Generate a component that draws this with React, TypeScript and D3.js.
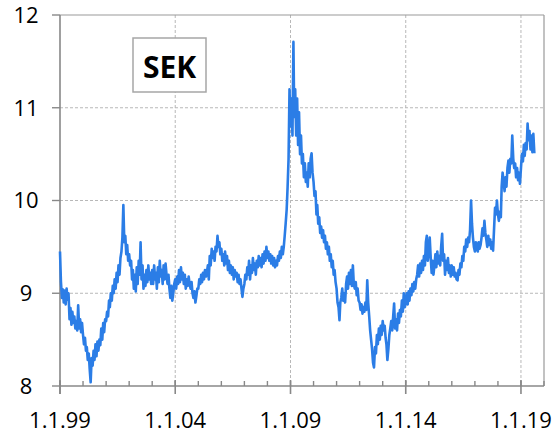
import React, { useEffect, useRef } from 'react';
import * as d3 from 'd3';

// EUR/SEK, two readings per month (1st and 16th)
const y1999 = [9.45, 9.12, 8.95, 9.04, 8.9, 9.03, 8.88, 9.05, 8.93, 9.0, 8.72, 8.84, 8.66, 8.8, 8.68, 8.75, 8.62, 8.7, 8.6, 8.87, 8.62, 8.72, 8.58, 8.68];
const y2000 = [8.55, 8.45, 8.52, 8.38, 8.42, 8.28, 8.35, 8.18, 8.04, 8.3, 8.22, 8.38, 8.28, 8.45, 8.32, 8.48, 8.38, 8.5, 8.44, 8.62, 8.5, 8.68, 8.58, 8.72];
const y2001 = [8.7, 8.8, 8.75, 8.92, 8.85, 9.0, 8.92, 9.08, 9.0, 9.15, 9.05, 9.22, 9.12, 9.3, 9.2, 9.38, 9.45, 9.6, 9.95, 9.55, 9.62, 9.42, 9.52, 9.35];
const y2002 = [9.42, 9.3, 9.35, 9.15, 9.25, 9.05, 9.2, 9.02, 9.28, 9.1, 9.35, 9.2, 9.55, 9.15, 9.3, 9.05, 9.2, 9.08, 9.25, 9.12, 9.3, 9.15, 9.22, 9.1];
const y2003 = [9.25, 9.1, 9.3, 9.15, 9.22, 9.05, 9.28, 9.12, 9.35, 9.18, 9.25, 9.1, 9.3, 9.15, 9.32, 9.2, 9.1, 9.2, 9.05, 8.95, 9.08, 8.92, 9.0, 9.1];
const y2004 = [9.15, 9.05, 9.18, 9.1, 9.25, 9.12, 9.28, 9.15, 9.22, 9.1, 9.2, 9.05, 9.15, 9.08, 9.18, 9.1, 9.05, 9.12, 9.0, 8.95, 9.02, 8.9, 8.97, 9.05];
const y2005 = [9.05, 9.15, 9.1, 9.2, 9.12, 9.22, 9.15, 9.25, 9.18, 9.22, 9.3, 9.15, 9.4, 9.3, 9.48, 9.38, 9.45, 9.35, 9.5, 9.45, 9.62, 9.5, 9.55, 9.42];
const y2006 = [9.48, 9.35, 9.42, 9.3, 9.45, 9.32, 9.4, 9.25, 9.35, 9.22, 9.3, 9.2, 9.28, 9.15, 9.25, 9.18, 9.22, 9.12, 9.2, 9.1, 9.15, 9.05, 8.96, 9.05];
const y2007 = [9.1, 9.2, 9.15, 9.28, 9.2, 9.35, 9.15, 9.3, 9.22, 9.38, 9.25, 9.32, 9.2, 9.35, 9.28, 9.4, 9.3, 9.38, 9.28, 9.42, 9.32, 9.45, 9.35, 9.5];
const y2008 = [9.38, 9.45, 9.35, 9.42, 9.32, 9.4, 9.3, 9.38, 9.28, 9.35, 9.3, 9.4, 9.35, 9.45, 9.38, 9.5, 9.42, 9.5, 9.62, 9.75, 9.9, 10.15, 10.45, 11.2];
const y2009 = [10.8, 11.1, 10.7, 11.71, 10.9, 11.2, 10.7, 11.1, 10.6, 10.95, 10.5, 10.7, 10.4, 10.5, 10.25, 10.4, 10.2, 10.3, 10.15, 10.4, 10.25, 10.45, 10.51, 10.3];
const y2010 = [10.2, 10.05, 10.1, 9.85, 9.95, 9.75, 9.82, 9.65, 9.72, 9.6, 9.68, 9.55, 9.62, 9.48, 9.55, 9.42, 9.5, 9.35, 9.42, 9.28, 9.35, 9.2, 9.25, 9.12];
const y2011 = [9.05, 8.9, 8.85, 8.71, 8.9, 8.95, 9.05, 8.92, 9.0, 8.9, 9.1, 9.18, 9.05, 9.22, 9.1, 9.25, 9.08, 9.3, 9.1, 9.05, 9.12, 8.98, 9.05, 8.92];
const y2012 = [8.9, 8.82, 8.88, 8.78, 8.85, 8.8, 8.9, 8.82, 9.14, 8.9, 8.75, 8.6, 8.5, 8.4, 8.25, 8.2, 8.42, 8.35, 8.55, 8.45, 8.62, 8.5, 8.65, 8.55];
const y2013 = [8.7, 8.6, 8.65, 8.52, 8.45, 8.28, 8.4, 8.55, 8.62, 8.7, 8.6, 8.75, 8.89, 8.62, 8.72, 8.6, 8.78, 8.68, 8.82, 8.75, 8.92, 8.8, 9.0, 8.85];
const y2014 = [8.9, 9.0, 8.88, 9.02, 8.92, 9.05, 8.98, 9.1, 9.02, 9.12, 9.05, 9.15, 9.2, 9.3, 9.18, 9.32, 9.22, 9.35, 9.25, 9.4, 9.3, 9.55, 9.62, 9.35];
const y2015 = [9.45, 9.6, 9.38, 9.22, 9.35, 9.2, 9.3, 9.42, 9.28, 9.45, 9.32, 9.4, 9.3, 9.5, 9.64, 9.35, 9.42, 9.2, 9.35, 9.25, 9.38, 9.22, 9.3, 9.18];
const y2016 = [9.3, 9.2, 9.28, 9.18, 9.22, 9.15, 9.14, 9.25, 9.2, 9.32, 9.28, 9.4, 9.35, 9.5, 9.45, 9.58, 9.5, 9.6, 9.55, 9.68, 10.0, 9.75, 9.6, 9.5];
const y2017 = [9.45, 9.55, 9.5, 9.45, 9.55, 9.48, 9.52, 9.6, 9.7, 9.62, 9.78, 9.65, 9.58, 9.5, 9.62, 9.52, 9.58, 9.48, 9.55, 9.46, 9.7, 9.92, 9.85, 10.0];
const y2018 = [9.85, 9.78, 9.88, 9.82, 10.15, 10.3, 10.2, 10.1, 10.25, 10.15, 10.35, 10.43, 10.3, 10.45, 10.4, 10.7, 10.45, 10.35, 10.4, 10.25, 10.35, 10.22, 10.3, 10.18];
const y2019 = [10.35, 10.5, 10.42, 10.6, 10.48, 10.62, 10.55, 10.83, 10.65, 10.75, 10.55, 10.7, 10.52, 10.72, 10.51];

const years = [
  y1999, y2000, y2001, y2002, y2003, y2004, y2005, y2006, y2007, y2008, y2009,
  y2010, y2011, y2012, y2013, y2014, y2015, y2016, y2017, y2018, y2019,
];
const firstYear = 1999;
const lastYear = 2020;
const yTicks = [8, 9, 10, 11, 12];
const label = 'SEK';

interface Point { date: Date; value: number; }

const Chart: React.FC = () => {
  const ref = useRef<SVGSVGElement>(null);

  useEffect(() => {
    if (!ref.current) return;
    const svg = d3.select(ref.current);
    svg.selectAll('*').remove();

    const margin = { top: 15, right: 14, bottom: 47, left: 60 };
    const W = 558, H = 433;
    const width = W - margin.left - margin.right;
    const height = H - margin.top - margin.bottom;

    const data: Point[] = [];
    years.forEach((vals, i) => {
      vals.forEach((v, k) => {
        data.push({ date: new Date(firstYear + i, Math.floor(k / 2), k % 2 ? 16 : 1), value: v });
      });
    });

    const x = d3.scaleTime()
      .domain([new Date(firstYear, 0, 1), new Date(lastYear, 0, 1)])
      .range([0, width]);
    const y = d3.scaleLinear().domain([8, 12]).range([height, 0]);

    const g = svg.append('g').attr('transform', `translate(${margin.left},${margin.top})`);

    const minors = d3.timeYear.range(new Date(firstYear, 0, 1), new Date(lastYear, 0, 2));
    const majors = minors.filter(d => (d.getFullYear() - firstYear) % 5 === 0);

    // grid
    g.selectAll('.hgrid').data(yTicks.filter(t => t > 8 && t < 12)).enter().append('line')
      .attr('x1', 0).attr('x2', width)
      .attr('y1', d => y(d)).attr('y2', d => y(d))
      .attr('stroke', '#b8b8b8').attr('stroke-dasharray', '3,2');
    g.selectAll('.vgrid').data(majors.filter(d => d.getFullYear() > firstYear)).enter().append('line')
      .attr('x1', d => x(d)).attr('x2', d => x(d))
      .attr('y1', 0).attr('y2', height)
      .attr('stroke', '#b8b8b8').attr('stroke-dasharray', '3,2');

    // frame
    g.append('line').attr('x1', 0).attr('x2', width).attr('y1', 0).attr('y2', 0)
      .attr('stroke', '#999').attr('stroke-width', 1.2);
    g.append('line').attr('x1', width).attr('x2', width).attr('y1', 0).attr('y2', height)
      .attr('stroke', '#999').attr('stroke-width', 1.2);

    // y axis
    g.append('line').attr('x1', 0).attr('x2', 0).attr('y1', 0).attr('y2', height + 8)
      .attr('stroke', '#888').attr('stroke-width', 1.6);
    g.selectAll('.ytick').data(yTicks).enter().append('line')
      .attr('x1', -8).attr('x2', 0).attr('y1', d => y(d)).attr('y2', d => y(d))
      .attr('stroke', '#888').attr('stroke-width', 1.4);
    g.selectAll('.ylab').data(yTicks).enter().append('text')
      .attr('x', -34).attr('y', d => y(d)).attr('dy', '0.36em')
      .attr('text-anchor', 'middle')
      .style('font-family', '"Open Sans", sans-serif').style('font-size', '22px')
      .attr('fill', '#000')
      .text(d => d);

    // x axis
    g.append('line').attr('x1', 0).attr('x2', width).attr('y1', height).attr('y2', height)
      .attr('stroke', '#888').attr('stroke-width', 1.6);
    g.selectAll('.minor').data(minors).enter().append('line')
      .attr('x1', d => x(d)).attr('x2', d => x(d))
      .attr('y1', height - 5).attr('y2', height)
      .attr('stroke', '#888').attr('stroke-width', 1.4);
    g.selectAll('.major').data(majors).enter().append('line')
      .attr('x1', d => x(d)).attr('x2', d => x(d))
      .attr('y1', height - 6).attr('y2', height + 8)
      .attr('stroke', '#888').attr('stroke-width', 1.6);
    const fmt = d3.timeFormat('%-d.%-m.%y');
    g.selectAll('.xlab').data(majors).enter().append('text')
      .attr('x', d => x(d)).attr('y', height + 42)
      .attr('text-anchor', 'middle')
      .style('font-family', '"Open Sans", sans-serif').style('font-size', '22px')
      .attr('fill', '#000')
      .text(d => fmt(d));

    // series
    const line = d3.line<Point>().x(d => x(d.date)).y(d => y(d.value));
    g.append('path').datum(data)
      .attr('d', line)
      .attr('fill', 'none')
      .attr('stroke', '#2b7de6')
      .attr('stroke-width', 2.6)
      .attr('stroke-linejoin', 'round');

    // label box
    const box = svg.append('g').attr('transform', 'translate(133,38)');
    box.append('rect').attr('width', 73).attr('height', 54)
      .attr('fill', '#fff').attr('stroke', '#a6a6a6').attr('stroke-width', 1.5);
    box.append('text').attr('x', 36.5).attr('y', 39.5)
      .attr('text-anchor', 'middle')
      .style('font-family', '"Open Sans", sans-serif').style('font-size', '30px').style('font-weight', 'bold')
      .attr('fill', '#000')
      .text(label);
  }, []);

  return <svg ref={ref} width={558} height={433} style={{ display: 'block' }} />;
};

export default function App() {
  return (
    <div style={{ position: 'fixed', left: 0, top: 0, background: '#fff' }}>
      <Chart />
    </div>
  );
}
